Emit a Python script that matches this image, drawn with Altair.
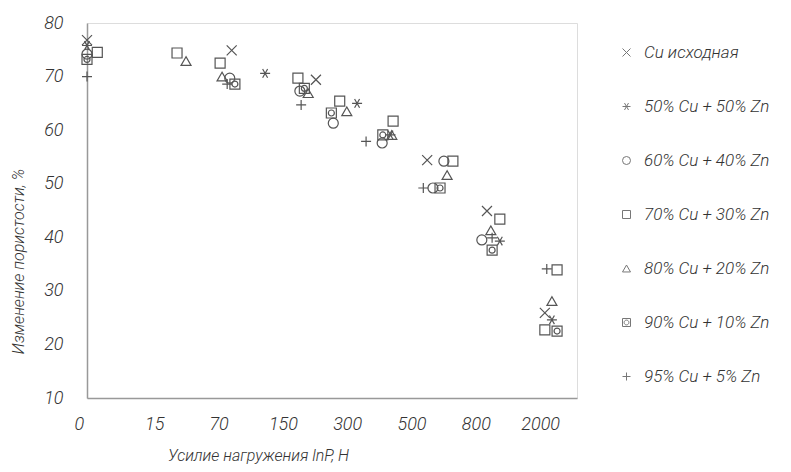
import json
import altair as alt
import pandas as pd

series_names = [
    "Cu исходная",
    "50% Cu + 50% Zn",
    "60% Cu + 40% Zn",
    "70% Cu + 30% Zn",
    "80% Cu + 20% Zn",
    "90% Cu + 10% Zn",
    "95% Cu + 5% Zn",
]

x_tick_labels = ["0", "15", "70", "150", "300", "500", "800", "2000"]

cu_x = [0, 2.25, 3.56, 5.29, 6.22, 7.12]
cu_y = [76.8, 74.9, 69.4, 54.4, 44.9, 25.9]

zn50_x = [0, 2.77, 4.2, 4.72, 6.42, 7.23]
zn50_y = [75.8, 70.6, 65.0, 59.1, 39.3, 24.6]

zn40_x = [0, 2.22, 3.31, 3.83, 4.59, 5.38, 5.55, 6.14]
zn40_y = [74.2, 69.7, 67.3, 61.3, 57.6, 49.2, 54.2, 39.5]

zn30_x = [0.16, 1.4, 2.07, 3.28, 3.93, 4.76, 5.69, 6.42, 7.31, 7.12]
zn30_y = [74.5, 74.4, 72.5, 69.7, 65.4, 61.7, 54.2, 43.4, 33.9, 22.7]

zn20_x = [1.54, 2.1, 3.44, 4.04, 4.74, 5.6, 6.28, 7.23]
zn20_y = [72.9, 70.0, 66.9, 63.5, 59.1, 51.6, 41.3, 28.1]

zn10_x = [0, 2.3, 3.38, 3.8, 4.6, 5.49, 6.3, 7.31]
zn10_y = [73.2, 68.6, 67.8, 63.2, 59.1, 49.2, 37.6, 22.5]

zn5_x = [0, 2.18, 3.33, 4.34, 5.23, 6.3, 7.15]
zn5_y = [70.0, 68.6, 64.7, 57.9, 49.2, 39.9, 34.1]

all_x = [cu_x, zn50_x, zn40_x, zn30_x, zn20_x, zn10_x, zn5_x]
all_y = [cu_y, zn50_y, zn40_y, zn30_y, zn20_y, zn10_y, zn5_y]

rows = []
for name, xs, ys in zip(series_names, all_x, all_y):
    for xv, yv in zip(xs, ys):
        rows.append({"series": name, "x": xv, "y": yv})
df = pd.DataFrame(rows)

shapes = [
    "M-1,-1L1,1M-1,1L1,-1",
    "M-1,0L1,0M-0.5,-0.87L0.5,0.87M-0.5,0.87L0.5,-0.87",
    "circle",
    "square",
    "triangle-up",
    "M-1,-1H1V1H-1ZM0.6,0A0.6,0.6 0 1 1 -0.6,0A0.6,0.6 0 1 1 0.6,0",
    "M-1,0H1M0,-1V1",
]

FONT = "Roboto"
label_expr = json.dumps(x_tick_labels) + "[datum.value]"

chart = (
    alt.Chart(df)
    .mark_point(filled=False, color="#555555", strokeWidth=1.2, size=100, opacity=1)
    .encode(
        x=alt.X(
            "x:Q",
            scale=alt.Scale(domain=[0, 7.62], nice=False, zero=False),
            axis=alt.Axis(
                values=list(range(len(x_tick_labels))),
                labelExpr=label_expr,
                ticks=False,
                grid=False,
                domainColor="#999999",
                domainWidth=1.5,
                labelFont=FONT,
                labelFontSize=18,
                labelFontStyle="italic",
                labelFontWeight=300,
                labelColor="#333333",
                labelPadding=17,
                labelOffset={"condition": {"test": "datum.value == 0", "value": -13}, "value": 3},
                title="Усилие нагружения lnP, Н",
                titleFont=FONT,
                titleFontSize=16,
                titleFontStyle="italic",
                titleFontWeight=300,
                titleColor="#333333",
                titleX=171,
                titleY=57,
                titleBaseline="middle",
            ),
        ),
        y=alt.Y(
            "y:Q",
            scale=alt.Scale(domain=[10, 80], nice=False, zero=False),
            axis=alt.Axis(
                values=[10, 20, 30, 40, 50, 60, 70, 80],
                ticks=False,
                grid=False,
                domainColor="#999999",
                domainWidth=1.5,
                labelFont=FONT,
                labelFontSize=18,
                labelFontStyle="italic",
                labelFontWeight=300,
                labelColor="#333333",
                labelPadding=24,
                title="Изменение пористости, %",
                titleFont=FONT,
                titleFontSize=16,
                titleFontStyle="italic",
                titleFontWeight=300,
                titleColor="#333333",
                titleX=-69,
                titleY=238,
                titleBaseline="middle",
                titleAlign="center",
            ),
        ),
        shape=alt.Shape(
            "series:N",
            scale=alt.Scale(domain=series_names, range=shapes),
            legend=alt.Legend(
                title=None,
                orient="none",
                legendX=531,
                legendY=21,
                rowPadding=36,
                symbolSize=64,
                symbolStrokeWidth=1,
                symbolStrokeColor="#777777",
                labelFont=FONT,
                labelFontSize=17,
                labelFontStyle="italic",
                labelFontWeight=300,
                labelColor="#333333",
                labelOffset=9,
                labelLimit=300,
            ),
        ),
    )
    .properties(
        width=490,
        height=375,
        padding={"left": 79, "top": 15, "right": 200, "bottom": 66},
        autosize=alt.AutoSizeParams(type="none"),
    )
    .configure_view(stroke=None)
    .configure(background="white")
)

chart.save("out.html", embed_options={"renderer": "svg", "actions": False})
